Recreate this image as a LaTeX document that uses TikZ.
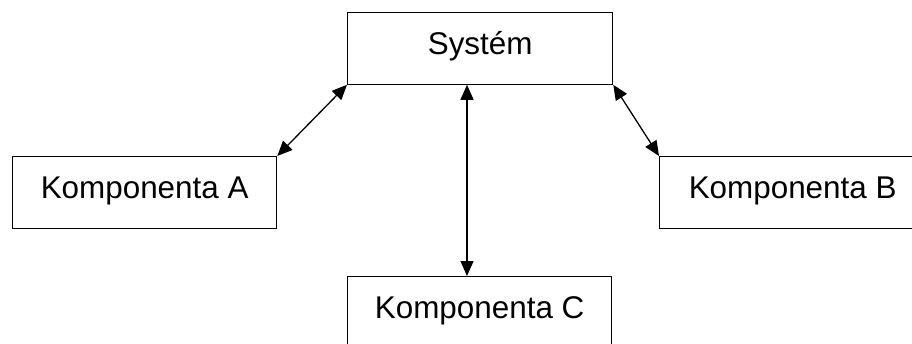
\documentclass[tikz,border=0pt]{standalone}
\usepackage{fontspec}
\setmainfont{Liberation Sans}
\usetikzlibrary{arrows.meta}
\begin{document}
\begin{tikzpicture}[x=1pt,y=-1pt,
  box/.style={draw, line width=1.3pt, inner sep=0pt, anchor=north west,
    text height=41.5pt, text depth=30pt,
    font=\fontsize{31.4}{36}\selectfont},
  link/.style={line width=1.3pt, {Triangle[length=15pt,width=13pt]}-{Triangle[length=15pt,width=13pt]}}]
\useasboundingbox (0,0) rectangle (912,343);
\node[box, minimum width=265pt] (S) at (347,12) {Systém};
\node[box, minimum width=264pt] (A) at (12,156) {Komponenta A};
\node[box, minimum width=266pt] (B) at (659,156) {Komponenta B};
\node[box, minimum width=264pt] (C) at (347,276) {Komponenta C};
\coordinate (v) at ([xshift=120pt]S.south west);
\draw[link] (A.north east) -- (S.south west);
\draw[link] (S.south east) -- (B.north west);
\draw[link] (v) -- (v |- C.north);
\end{tikzpicture}
\end{document}
